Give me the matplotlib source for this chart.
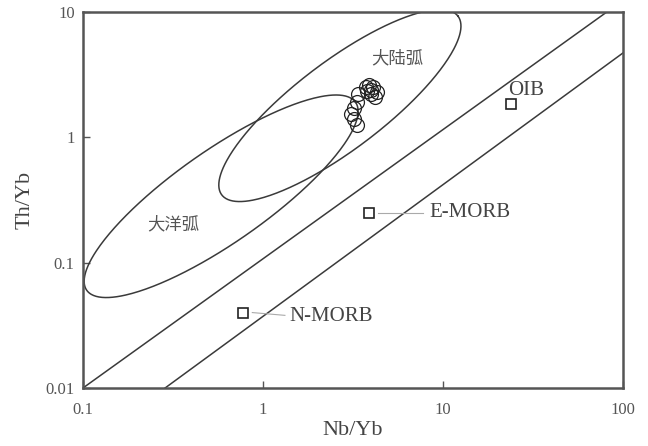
import numpy as np
import matplotlib
matplotlib.use('Agg')
import matplotlib.pyplot as plt

plt.rcParams['font.family'] = ['Liberation Serif', 'Noto Sans CJK SC', 'DejaVu Sans']

# sample data (Nb/Yb, Th/Yb)
nb_yb = [3.9, 3.75, 4.1, 4.3, 4.2, 4.0, 3.8, 4.0, 3.4, 3.35, 3.2, 3.1, 3.2, 3.35]
th_yb = [2.6, 2.5, 2.5, 2.3, 2.1, 2.4, 2.35, 2.2, 2.2, 1.9, 1.7, 1.55, 1.4, 1.25]

# reference compositions
ref_names = ['OIB', 'E-MORB', 'N-MORB']
ref_nb = [23.9, 3.9, 0.78]
ref_th = [1.85, 0.25, 0.040]

# MORB-OIB array boundaries (endpoints)
upper_line = ([0.1, 81.5], [0.01, 10])
lower_line = ([0.286, 100], [0.01, 4.7])

# arc fields: center (log10 x, log10 y), major half-vector, minor half-vector (log10 units)
oceanic_arc = dict(c=(-0.232, -0.470), u=(0.747, 0.750), v=(0.147, -0.301))
continental_arc = dict(c=(0.428, 0.254), u=(0.656, 0.714), v=(0.150, -0.278))

fig = plt.figure(figsize=(6.48, 4.46), dpi=100)
ax = fig.add_axes([0.128, 0.130, 0.833, 0.843])
ax.set_xscale('log')
ax.set_yscale('log')
ax.set_xlim(0.1, 100)
ax.set_ylim(0.01, 10)

lc = '#3a3a3a'
ax.plot(*upper_line, color=lc, lw=1.1)
ax.plot(*lower_line, color=lc, lw=1.1)

t = np.linspace(0, 2 * np.pi, 400)
for e in (oceanic_arc, continental_arc):
    lx = e['c'][0] + e['u'][0] * np.cos(t) + e['v'][0] * np.sin(t)
    ly = e['c'][1] + e['u'][1] * np.cos(t) + e['v'][1] * np.sin(t)
    ax.plot(10 ** lx, 10 ** ly, color=lc, lw=1.1, clip_on=True)

ax.plot(nb_yb, th_yb, 'o', ms=10, mfc='none', mec='#222222', mew=0.9)
ax.plot(ref_nb, ref_th, 's', ms=7, mfc='white', mec='#222222', mew=1.2)

# labels for reference points
ax.text(ref_nb[0] * 0.96, ref_th[0] * 1.08, 'OIB', fontsize=15, color='#444444',
        ha='left', va='bottom')
ax.plot([ref_nb[1] * 1.12, ref_nb[1] * 2.0], [ref_th[1], ref_th[1]], color='#aaaaaa', lw=0.8)
ax.text(ref_nb[1] * 2.15, ref_th[1], 'E-MORB', fontsize=15, color='#444444',
        ha='left', va='center')
ax.plot([ref_nb[2] * 1.12, ref_nb[2] * 1.7], [ref_th[2], ref_th[2] * 0.95], color='#aaaaaa', lw=0.8)
ax.text(ref_nb[2] * 1.8, ref_th[2] * 0.93, 'N-MORB', fontsize=15, color='#444444',
        ha='left', va='center')

ax.text(5.6, 4.3, '大陆弧', fontsize=12.5, color='#555555', ha='center', va='center',
        family=['Noto Sans CJK SC'])
ax.text(0.316, 0.203, '大洋弧', fontsize=12.5, color='#555555', ha='center', va='center',
        family=['Noto Sans CJK SC'])

for s in ax.spines.values():
    s.set_color('#555555')
    s.set_linewidth(1.8)

ax.set_xticks([0.1, 1, 10, 100])
ax.set_xticklabels(['0.1', '1', '10', '100'])
ax.set_yticks([0.01, 0.1, 1, 10])
ax.set_yticklabels(['0.01', '0.1', '1', '10'])
ax.minorticks_off()
ax.tick_params(direction='in', length=5, width=1, color='#555555',
               labelsize=12, labelcolor='#555555')
ax.tick_params(axis='x', pad=10)
ax.tick_params(axis='y', pad=6)

ax.set_xlabel('Nb/Yb', fontsize=16, color='#444444', labelpad=2)
ax.set_ylabel('Th/Yb', fontsize=16, color='#444444', labelpad=8)

fig.savefig('out.png', dpi=100)
